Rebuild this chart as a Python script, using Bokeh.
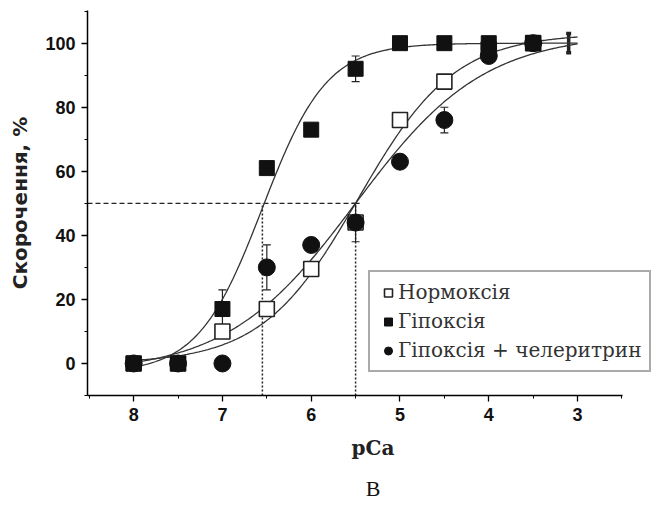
import numpy as np
from bokeh.plotting import figure
from bokeh.models import (ColumnDataSource, Range1d, SingleIntervalTicker, Whisker,
                          TeeHead, Legend, LegendItem, Title)
from bokeh.embed import file_html
from bokeh.resources import INLINE

# ---------------- data ----------------
pca = [8.0, 7.5, 7.0, 6.5, 6.0, 5.5, 5.0, 4.5, 4.0, 3.5]

norm_y = [0, 0, 10, 17, 29.5, 44, 76, 88, 98, 100]
norm_err = [0, 0, 0, 0, 0, 0, 0, 0, 0, 0]

hyp_y = [0, 0, 17, 61, 73, 92, 100, 100, 100, 100]
hyp_err = [0, 0, 6, 2, 2, 4, 0, 0, 0, 0]

chel_y = [0, 0, 0, 30, 37, 44, 63, 76, 96, 100]
chel_err = [0, 0, 0, 7, 2, 6, 0, 4, 2, 0]

# lone error bar at the right end of the hypoxia plateau
extra_x = [3.1]
extra_y = [100]
extra_err = [3]

# Hill-fit parameters: (bottom, top, pCa50, slope)
fit_norm = (0, 103, 5.47, 0.8)
fit_hyp = (-3, 100, 6.55, 1.2)
fit_chel = (-3, 103, 5.5, 0.6)

pca50_hyp = 6.55
pca50_norm = 5.5
half_level = 50

labels = ["Нормоксія", "Гіпоксія", "Гіпоксія + челеритрин"]
x_title = "pCa"
y_title = "Скорочення, %"
panel_letter = "В"

X_AXIS_LEFT, X_AXIS_RIGHT = 8.52, 2.49

# ---------------- figure ----------------
p = figure(width=660, height=505, output_backend="svg", toolbar_location=None,
           x_range=Range1d(X_AXIS_LEFT, 2.088), y_range=Range1d(-10, 110.2),
           min_border_left=87, min_border_right=2, min_border_top=10,
           min_border_bottom=110)
p.outline_line_color = None
p.xgrid.visible = False
p.ygrid.visible = False
p.background_fill_color = "white"
p.border_fill_color = "white"

for ax in (p.xaxis[0], p.yaxis[0]):
    ax.axis_line_color = "black"
    ax.axis_line_width = 1.5
    ax.major_tick_line_color = "black"
    ax.minor_tick_line_color = "black"
    ax.major_tick_line_width = 1.3
    ax.minor_tick_line_width = 1.0
    ax.major_tick_in = 0
    ax.major_tick_out = 6
    ax.minor_tick_in = 0
    ax.minor_tick_out = 3
    ax.major_label_text_font = "Liberation Sans"
    ax.major_label_text_font_style = "bold"
    ax.major_label_text_font_size = "18px"
    ax.major_label_text_color = "#111111"

p.xaxis.bounds = (X_AXIS_RIGHT, X_AXIS_LEFT)
p.xaxis.ticker = SingleIntervalTicker(interval=1, num_minor_ticks=2)
p.yaxis.ticker = SingleIntervalTicker(interval=20, num_minor_ticks=2)
p.xaxis.major_label_standoff = 6
p.yaxis.major_label_standoff = 6

p.yaxis.axis_label = y_title
p.yaxis.axis_label_text_font = "DejaVu Sans"
p.yaxis.axis_label_text_font_style = "bold"
p.yaxis.axis_label_text_font_size = "20px"
p.yaxis.axis_label_text_color = "#222222"
p.yaxis.axis_label_standoff = 10

# ---------------- reference lines ----------------
p.segment(x0=[X_AXIS_LEFT], y0=[half_level], x1=[pca50_norm], y1=[half_level],
          line_color="#222222", line_width=1.3, line_dash="5 3")
p.segment(x0=[pca50_hyp, pca50_norm], y0=[-10, -10], x1=[pca50_hyp, pca50_norm],
          y1=[half_level, half_level], line_color="#222222", line_width=1.5,
          line_dash="2 2")

# ---------------- fitted curves ----------------
xs = np.linspace(8.0, 3.0, 300)


def hill(params):
    b, t, x50, n = params
    return b + (t - b) / (1 + 10 ** (n * (xs - x50)))


for prm in (fit_norm, fit_chel, fit_hyp):
    p.line(xs, hill(prm), line_color="#333333", line_width=1.3)

# ---------------- error bars ----------------
def add_err(x, y, e, width=1.2, head=8):
    src = ColumnDataSource(dict(x=[a for a, d in zip(x, e) if d > 0],
                                lo=[b - d for b, d in zip(y, e) if d > 0],
                                hi=[b + d for b, d in zip(y, e) if d > 0]))
    w = Whisker(base="x", lower="lo", upper="hi", source=src,
                line_color="#222222", line_width=width,
                upper_head=TeeHead(size=head, line_color="#222222", line_width=width),
                lower_head=TeeHead(size=head, line_color="#222222", line_width=width))
    p.add_layout(w)


add_err(pca, norm_y, norm_err)
add_err(pca, hyp_y, hyp_err)
add_err(pca, chel_y, chel_err)
add_err(extra_x, extra_y, extra_err, width=3.5, head=5)

# ---------------- markers ----------------
r_norm = p.scatter(pca, norm_y, marker="square", size=15, fill_color="white",
                   line_color="#222222", line_width=1.6)
r_hyp = p.scatter(pca, hyp_y, marker="square", size=15, fill_color="#111111",
                  line_color="#111111", line_width=1)
r_chel = p.scatter(pca, chel_y, marker="circle", size=17, fill_color="#111111",
                   line_color="#111111", line_width=1)

legend = Legend(items=[LegendItem(label=labels[0], renderers=[r_norm]),
                       LegendItem(label=labels[1], renderers=[r_hyp]),
                       LegendItem(label=labels[2], renderers=[r_chel])],
                location=(281, 23), orientation="vertical",
                label_text_font="DejaVu Serif", label_text_font_size="20px",
                label_text_color="#333333", glyph_width=20, glyph_height=23,
                label_height=23, label_standoff=0, spacing=5, padding=8,
                margin=0, border_line_color="#555555", border_line_width=2,
                background_fill_color="white", background_fill_alpha=1)
p.add_layout(legend)

# x-axis title and panel letter, centred under the drawn axis
p.add_layout(Title(text=x_title, align="center", offset=-18,
                   text_font="DejaVu Serif", text_font_size="20px",
                   text_font_style="bold", text_color="#222222", standoff=20),
             "below")
p.add_layout(Title(text=panel_letter, align="center", offset=-15,
                   text_font="Liberation Serif", text_font_size="22px",
                   text_font_style="normal", text_color="#111111", standoff=9),
             "below")

open("out.html", "w").write(file_html(p, INLINE))
